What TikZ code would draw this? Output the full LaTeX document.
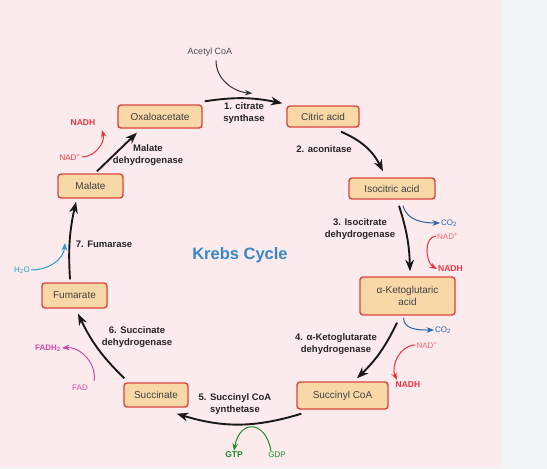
\documentclass[tikz,border=0pt]{standalone}
\usepackage{fontspec}
\setmainfont{Liberation Sans}
\usetikzlibrary{arrows.meta}
\definecolor{bgpink}{HTML}{FCEBEC}
\definecolor{sidegray}{HTML}{F1F3F4}
\definecolor{boxfill}{HTML}{F9D8A8}
\definecolor{boxline}{HTML}{D9453E}
\definecolor{nadred}{HTML}{EE3340}
\definecolor{coblue}{HTML}{2465AA}
\definecolor{waterblue}{HTML}{2A9CC9}
\definecolor{gtpgreen}{HTML}{1E8B2C}
\definecolor{fadpink}{HTML}{D546A8}
\definecolor{titleblue}{HTML}{3A86C8}
\tikzset{
  acid/.style={draw=boxline, fill=boxfill, line width=1.4pt, rounded corners=3pt,
    minimum height=21pt, inner sep=1pt, text=black!75, font=\fontsize{10}{12}\selectfont},
  enzyme/.style={font=\bfseries\fontsize{9.5}{12}\selectfont, align=center, text=black!85},
  side/.style={font=\fontsize{8}{9}\selectfont, inner sep=1pt},
  cyc/.style={->, line width=1.9pt, black!90},
  sidearr/.style={->, line width=1pt},
}
\begin{document}
\begin{tikzpicture}[x=1pt, y=1pt, >=Stealth]
    \fill[sidegray] (0,0) rectangle (547,-469);
    \fill[bgpink] (0,0) rectangle (501,-467);
    \useasboundingbox (0,0) rectangle (547,-469);

    % intermediates
    \node[acid, minimum width=84pt, minimum height=23pt] (oxa) at (160,-116.5) {Oxaloacetate};
    \node[acid, minimum width=72pt] (cit) at (323,-116.5) {Citric acid};
    \node[acid, minimum width=86pt] (iso) at (392,-188.5) {Isocitric acid};
    \node[acid, minimum width=95pt, minimum height=38pt, align=center] (akg) at (407.5,-296) {α-Ketoglutaric\\acid};
    \node[acid, minimum width=91pt, minimum height=27pt] (suc) at (342.5,-395.5) {Succinyl CoA};
    \node[acid, minimum width=64pt, minimum height=24pt] (sin) at (156,-395) {Succinate};
    \node[acid, minimum width=65pt, minimum height=25pt] (fum) at (74.5,-295.5) {Fumarate};
    \node[acid, minimum width=65pt, minimum height=24pt] (mal) at (90.5,-186) {Malate};

    % enzymes
    \node[enzyme] (citsyn) at (244,-113) {1. citrate\\synthase};
    \node[enzyme] (acon) at (324,-149) {2. aconitase};
    \node[enzyme] (isodh) at (360,-229) {3. Isocitrate\\dehydrogenase};
    \node[enzyme] (akgdh) at (336,-344) {4. α-Ketoglutarate\\dehydrogenase};
    \node[enzyme] (sucsyn) at (235,-404) {5. Succinyl CoA\\synthetase};
    \node[enzyme] (sindh) at (137,-337) {6. Succinate\\dehydrogenase};
    \node[enzyme] (fumase) at (104,-244) {7. Fumarase};
    \node[enzyme] (maldh) at (148,-155) {Malate\\dehydrogenase};
    \node[font=\bfseries\fontsize{16.5}{18}\selectfont, text=titleblue] (title) at (240,-255) {Krebs Cycle};

    % main cycle
    \draw[cyc] ([shift={(2,3)}]oxa.north east) to[bend left=10] ([shift={(-4,2)}]cit.north west);
    \draw[cyc] ([shift={(18,-4)}]cit.south) to[bend left=20] ([shift={(-9,6)}]iso.north);
    \draw[cyc] ([shift={(7,-6)}]iso.south) to[bend left=8] ([shift={(2.5,5)}]akg.north);
    \draw[cyc] ([shift={(-10.5,-7)}]akg.south) to[bend left=10] ([shift={(14.5,3)}]suc.north);
    \draw[cyc] ([shift={(5,-4)}]suc.south west) to[bend left=17] ([shift={(-12,-6)}]sin.south east);
    \draw[cyc] ([shift={(1,4)}]sin.north west) to[bend left=10] ([shift={(3.5,-5)}]fum.south);
    \draw[cyc] ([shift={(-4.5,3)}]fum.north) to[bend left=8] ([shift={(-14.5,-3)}]mal.south);
    \draw[cyc] ([shift={(6.5,2)}]mal.north) -- ([shift={(-23,-4)}]oxa.south);

    % acetyl CoA
    \node[side, text=black!70, font=\fontsize{9}{10}\selectfont] (acoa) at (210,-52) {Acetyl CoA};
    \draw[sidearr, black!80] ([shift={(6,-3)}]acoa.south) to[out=-90, in=175] ([shift={(-34,12)}]cit.north west);

    % malate dehydrogenase
    \node[side, text=nadred] (nad8) at (70,-157) {NAD\textsuperscript{+}};
    \node[side, text=nadred, font=\bfseries\fontsize{8.5}{9}\selectfont] (nadh8) at (83,-123) {NADH};
    \coordinate (nadh8tip) at (102,-130);
    \draw[sidearr, nadred] (nad8.east) to[out=0, in=-75] (nadh8tip);

    % isocitrate dehydrogenase
    \node[side, text=coblue, anchor=west] (co3) at (440,-223) {CO\textsubscript{2}};
    \draw[sidearr, coblue] ([shift={(11,-6)}]iso.south) to[out=-75, in=180] (co3.west);
    \node[side, text=nadred!75, anchor=west] (nad3) at (436,-236) {NAD\textsuperscript{+}};
    \node[side, text=nadred, anchor=west, font=\bfseries\fontsize{8.5}{9}\selectfont] (nadh3) at (437,-269) {NADH};
    \draw[sidearr, nadred] (nad3.west) to[out=185, in=150] (nadh3.west);

    % alpha-ketoglutarate dehydrogenase
    \node[side, text=coblue, anchor=west] (co4) at (434,-330) {CO\textsubscript{2}};
    \draw[sidearr, coblue] ([shift={(-4,-2)}]akg.south) to[out=-90, in=180] (co4.west);
    \node[side, text=nadred!75] (nad4) at (427,-345) {NAD\textsuperscript{+}};
    \node[side, text=nadred, font=\bfseries\fontsize{8.5}{9}\selectfont] (nadh4) at (408,-385) {NADH};
    \draw[sidearr, nadred] (nad4.west) to[out=180, in=115] ([shift={(-11,1)}]nadh4.north);

    % succinyl CoA synthetase
    \node[side, text=gtpgreen, font=\bfseries\fontsize{8.5}{9}\selectfont] (gtp) at (234,-455) {GTP};
    \node[side, text=gtpgreen] (gdp) at (277,-455) {GDP};
    \draw[sidearr, gtpgreen] ([shift={(-6,0)}]gdp.north) to[out=100, in=80, looseness=2.2] (gtp.north);

    % succinate dehydrogenase
    \node[side, text=fadpink] (fad) at (80,-388) {FAD};
    \node[side, text=fadpink, font=\bfseries\fontsize{8}{9}\selectfont] (fadh) at (48,-348) {FADH\textsubscript{2}};
    \draw[sidearr, fadpink] ([shift={(14,3)}]fad.north) to[out=80, in=5] (fadh.east);

    % fumarase
    \node[side, text=waterblue] (water) at (22,-270) {H\textsubscript{2}O};
    \coordinate (watertip) at (65,-243);
    \draw[sidearr, waterblue] (water.east) to[out=0, in=-95] (watertip);
\end{tikzpicture}
\end{document}
